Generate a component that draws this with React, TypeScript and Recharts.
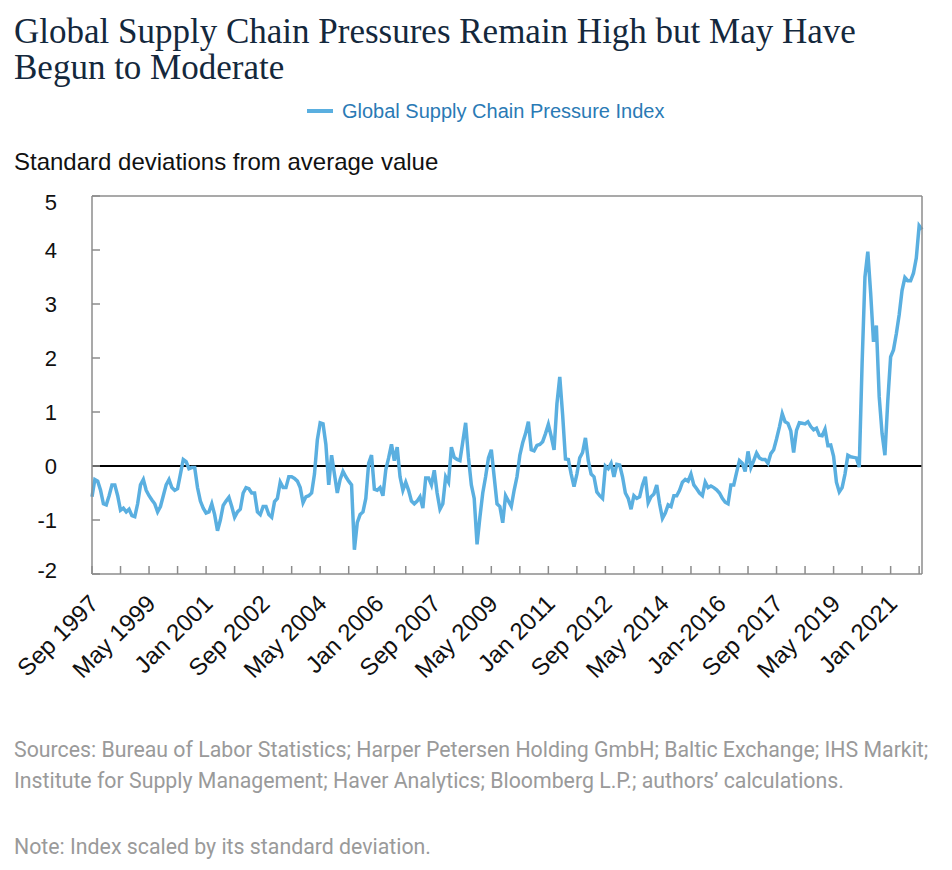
import React from "react";
import { LineChart, Line, XAxis, YAxis, ReferenceLine } from "recharts";

// Monthly index values, Sep 1997 - Dec 2021
const gscpi1997to2001 = [
  -0.57, -0.25, -0.28, -0.45,
  -0.7, -0.72, -0.55, -0.35, -0.35, -0.55, -0.82, -0.78, -0.85, -0.8, -0.92, -0.94,
  -0.7, -0.35, -0.25, -0.45, -0.55, -0.63, -0.7, -0.85, -0.75, -0.55, -0.35, -0.25,
  -0.4, -0.45, -0.42, -0.15, 0.12, 0.08, -0.05, -0.03, -0.03, -0.4, -0.65, -0.78,
  -0.87, -0.85, -0.7, -0.9, -1.2, -1.0, -0.73, -0.65, -0.58, -0.75, -0.95, -0.85,
];
const gscpi2002to2005 = [
  -0.8, -0.5, -0.4, -0.42, -0.5, -0.5, -0.85, -0.9, -0.75, -0.75, -0.9, -0.95,
  -0.66, -0.6, -0.3, -0.4, -0.4, -0.2, -0.2, -0.23, -0.28, -0.4, -0.68, -0.57,
  -0.55, -0.5, -0.15, 0.48, 0.8, 0.78, 0.4, -0.35, 0.2, -0.15, -0.5, -0.25,
  -0.1, -0.2, -0.28, -0.35, -1.55, -1.05, -0.9, -0.85, -0.6, 0.05, 0.2, -0.43,
];
const gscpi2006to2009 = [
  -0.45, -0.4, -0.55, -0.07, 0.15, 0.4, 0.1, 0.35, -0.2, -0.45, -0.3, -0.45,
  -0.65, -0.7, -0.65, -0.57, -0.78, -0.22, -0.22, -0.35, -0.08, -0.5, -0.8, -0.7,
  -0.2, -0.3, 0.35, 0.16, 0.12, 0.1, 0.45, 0.8, 0.15, -0.35, -0.6, -1.45,
  -0.95, -0.5, -0.2, 0.15, 0.3, -0.2, -0.7, -0.75, -1.05, -0.55, -0.65, -0.75,
];
const gscpi2010to2013 = [
  -0.45, -0.2, 0.2, 0.43, 0.6, 0.82, 0.3, 0.28, 0.38, 0.4, 0.45, 0.6,
  0.77, 0.55, 0.3, 1.15, 1.65, 0.95, 0.13, 0.12, -0.15, -0.38, -0.15, 0.15,
  0.25, 0.52, 0.1, -0.15, -0.2, -0.48, -0.55, -0.6, 0.0, -0.05, 0.05, -0.2,
  0.03, 0.02, -0.2, -0.5, -0.6, -0.8, -0.55, -0.6, -0.57, -0.35, -0.2, -0.68,
];
const gscpi2014to2017 = [
  -0.57, -0.52, -0.35, -0.7, -0.97, -0.87, -0.72, -0.75, -0.55, -0.55, -0.45, -0.3,
  -0.25, -0.28, -0.15, -0.35, -0.42, -0.5, -0.55, -0.3, -0.4, -0.37, -0.4, -0.44,
  -0.5, -0.6, -0.67, -0.7, -0.35, -0.35, -0.12, 0.1, 0.05, -0.1, 0.27, -0.03,
  0.1, 0.24, 0.15, 0.12, 0.12, 0.05, 0.23, 0.3, 0.5, 0.72, 0.97, 0.82,
];
const gscpi2018to2021 = [
  0.79, 0.65, 0.25, 0.66, 0.8, 0.79, 0.78, 0.82, 0.73, 0.67, 0.7, 0.57,
  0.56, 0.68, 0.38, 0.39, 0.18, -0.3, -0.48, -0.4, -0.15, 0.2, 0.17, 0.16,
  0.15, -0.02, 1.9, 3.5, 3.97, 3.2, 2.3, 2.6, 1.28, 0.6, 0.2, 1.2,
  2.02, 2.15, 2.45, 2.8, 3.25, 3.49, 3.43, 3.43, 3.57, 3.85, 4.45, 4.38,
];

const gscpi = [
  ...gscpi1997to2001,
  ...gscpi2002to2005,
  ...gscpi2006to2009,
  ...gscpi2010to2013,
  ...gscpi2014to2017,
  ...gscpi2018to2021,
];

const monthNames = ["Jan", "Feb", "Mar", "Apr", "May", "Jun", "Jul", "Aug", "Sep", "Oct", "Nov", "Dec"];

// labelled every 20 months, starting Sep 1997
const xTickLabels = [
  "Sep 1997", "May 1999", "Jan 2001", "Sep 2002", "May 2004", "Jan 2006", "Sep 2007",
  "May 2009", "Jan 2011", "Sep 2012", "May 2014", "Jan-2016", "Sep 2017", "May 2019", "Jan 2021",
];
const yTicks = [-2, -1, 0, 1, 2, 3, 4, 5];
const rightTicks = [0, 1, 2, 3, 4, 5, 6];

const data = gscpi.map((value, i) => {
  const m = 8 + i;
  return { i, month: `${monthNames[m % 12]} ${1997 + Math.floor(m / 12)}`, value };
});

const xTicks: number[] = [];
for (let t = 0; t < gscpi.length; t += 10) xTicks.push(t);

const LINE = "#5aafe0";
const FRAME = "#8c8c8c";
const SANS = "'Liberation Sans', Arial, sans-serif";

const XTick = (props: any) => {
  const { x, y, payload } = props;
  const idx = payload.value as number;
  if (idx % 20 !== 0) return null;
  const label = xTickLabels[idx / 20];
  const px = x + 8;
  const py = y + 31;
  return (
    <text
      x={px}
      y={py}
      textAnchor="end"
      fontSize={24}
      fontFamily={SANS}
      fill="#111"
      transform={`rotate(-45, ${px}, ${py})`}
    >
      {label}
    </text>
  );
};

const YTick = (props: any) => {
  const { x, y, payload } = props;
  const v = payload.value as number;
  const shift = v === 5 ? 6 : v === -2 ? -4 : 0;
  return (
    <text x={x - 35} y={y + 8 + shift} textAnchor="end" fontSize={22} fontFamily={SANS} fill="#111">
      {v}
    </text>
  );
};

export default function App() {
  return (
    <div style={{ position: "absolute", left: 0, top: 0, width: 952, height: 870, background: "#fff" }}>
      <div
        style={{
          position: "absolute",
          left: 14,
          top: 14,
          width: 930,
          fontFamily: "'Liberation Serif', 'Times New Roman', serif",
          fontSize: 35,
          lineHeight: "36px",
          color: "#14283c",
          whiteSpace: "nowrap",
        }}
      >
        Global Supply Chain Pressures Remain High but May Have
        <br />
        Begun to Moderate
      </div>

      <div
        style={{
          position: "absolute",
          left: 307,
          top: 99,
          height: 24,
          display: "flex",
          alignItems: "center",
          fontFamily: SANS,
          fontSize: 20,
          color: "#2a7ab5",
          whiteSpace: "nowrap",
        }}
      >
        <span style={{ display: "inline-block", width: 26, height: 4, background: LINE, marginRight: 9 }} />
        Global Supply Chain Pressure Index
      </div>

      <div
        style={{
          position: "absolute",
          left: 14,
          top: 150,
          lineHeight: "24px",
          fontFamily: SANS,
          fontSize: 24,
          color: "#111",
          whiteSpace: "nowrap",
        }}
      >
        Standard deviations from average value
      </div>

      <div style={{ position: "absolute", left: 0, top: 180 }}>
        <LineChart width={952} height={520} data={data} margin={{ top: 16, right: 0, bottom: 6, left: 0 }}>
          <XAxis
            dataKey="i"
            type="number"
            domain={[0, gscpi.length - 1]}
            ticks={xTicks}
            interval={0}
            height={120}
            stroke={FRAME}
            strokeWidth={1.5}
            tickSize={-8}
            tickMargin={8}
            tick={<XTick />}
          />
          <YAxis
            type="number"
            domain={[-2, 5]}
            ticks={yTicks}
            interval={0}
            width={92}
            stroke={FRAME}
            strokeWidth={1.5}
            tickSize={-8}
            tickMargin={8}
            tick={<YTick />}
          />
          <YAxis
            yAxisId="r"
            orientation="right"
            type="number"
            domain={[0, 6]}
            ticks={rightTicks}
            interval={0}
            width={30}
            stroke={FRAME}
            strokeWidth={1.5}
            tickSize={-8}
            tick={false}
          />
          <ReferenceLine y={5} stroke={FRAME} strokeWidth={1.5} />
          <ReferenceLine y={0} stroke="#000" strokeWidth={2} />
          <Line
            type="linear"
            dataKey="value"
            stroke={LINE}
            strokeWidth={3.5}
            dot={false}
            isAnimationActive={false}
          />
        </LineChart>
      </div>

      <div
        style={{
          position: "absolute",
          left: 14,
          top: 734,
          width: 938,
          fontFamily: "Roboto, sans-serif",
          fontSize: 21.3,
          lineHeight: "31px",
          color: "#9a9a9a",
          whiteSpace: "nowrap",
        }}
      >
        Sources: Bureau of Labor Statistics; Harper Petersen Holding GmbH; Baltic Exchange; IHS Markit;
        <br />
        Institute for Supply Management; Haver Analytics; Bloomberg L.P.; authors’ calculations.
      </div>
      <div
        style={{
          position: "absolute",
          left: 14,
          top: 831,
          fontFamily: "Roboto, sans-serif",
          fontSize: 21.3,
          lineHeight: "31px",
          color: "#9a9a9a",
          whiteSpace: "nowrap",
        }}
      >
        Note: Index scaled by its standard deviation.
      </div>
    </div>
  );
}
